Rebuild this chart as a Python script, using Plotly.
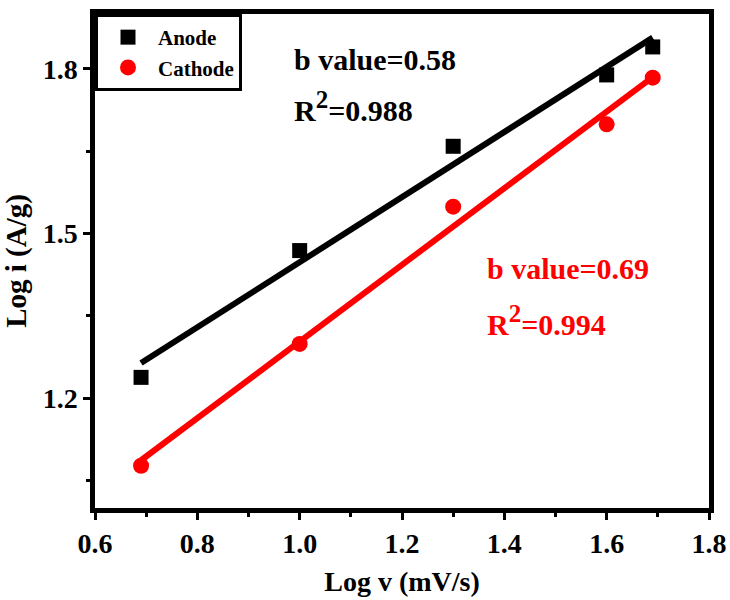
import plotly.graph_objects as go

# Data
log_v = [0.69, 1.0, 1.3, 1.6, 1.69]
anode_log_i = [1.238, 1.469, 1.659, 1.789, 1.840]
cathode_log_i = [1.077, 1.299, 1.549, 1.699, 1.784]

fit_x = [0.69, 1.69]
anode_fit = [1.264, 1.857]
cathode_fit = [1.087, 1.785]

x_ticks = [0.6, 0.8, 1.0, 1.2, 1.4, 1.6, 1.8]
y_ticks = [1.2, 1.5, 1.8]

FONT = "Liberation Serif"
fig = go.Figure()

fig.add_trace(go.Scatter(x=fit_x, y=anode_fit, mode="lines",
                         line=dict(color="black", width=6),
                         showlegend=False, hoverinfo="skip"))
fig.add_trace(go.Scatter(x=fit_x, y=cathode_fit, mode="lines",
                         line=dict(color="#ff0000", width=6),
                         showlegend=False, hoverinfo="skip"))
fig.add_trace(go.Scatter(x=log_v, y=anode_log_i, mode="markers", name="Anode",
                         marker=dict(symbol="square", size=15, color="black")))
fig.add_trace(go.Scatter(x=log_v, y=cathode_log_i, mode="markers", name="Cathode",
                         marker=dict(symbol="circle", size=16, color="#ff0000")))

axis_common = dict(
    showline=True, linecolor="black", linewidth=4.5, mirror=True,
    ticks="outside", ticklen=7, tickwidth=3, tickcolor="black",
    showgrid=False, zeroline=False, automargin=False,
    tickfont=dict(family=FONT, size=28, color="black", weight="bold"),
)

fig.update_xaxes(range=[0.6, 1.8], tickvals=x_ticks,
                 ticktext=[f"{v:.1f}" for v in x_ticks],
                 minor=dict(dtick=0.1, tick0=0.6, ticks="outside", ticklen=4,
                            tickwidth=3, tickcolor="black", showgrid=False),
                 title=dict(text="Log v (mV/s)",
                            font=dict(family=FONT, size=28, color="black", weight="bold")),
                 **axis_common)
fig.update_yaxes(range=[1.0, 1.9], tickvals=y_ticks,
                 ticktext=[f"{v:.1f}" for v in y_ticks],
                 minor=dict(tickvals=[1.05, 1.35, 1.65], ticks="outside", ticklen=4,
                            tickwidth=3, tickcolor="black", showgrid=False),
                 title=dict(text="Log i (A/g)",
                            font=dict(family=FONT, size=29, color="black", weight="bold")),
                 **axis_common)

ann_font_black = dict(family=FONT, size=30, color="black", weight="bold")
ann_font_red = dict(family=FONT, size=30, color="#ff0000", weight="bold")
sup = "<sup><span style='font-size:25px'>2</span></sup>"
fig.add_annotation(x=0.985, y=1.818, xref="x", yref="y", text="b value=0.58",
                   showarrow=False, xanchor="left", font=ann_font_black)
fig.add_annotation(x=0.985, y=1.732, xref="x", yref="y", text="R" + sup + "=0.988",
                   showarrow=False, xanchor="left", font=ann_font_black)
fig.add_annotation(x=1.362, y=1.437, xref="x", yref="y", text="b value=0.69",
                   showarrow=False, xanchor="left", font=ann_font_red)
fig.add_annotation(x=1.362, y=1.342, xref="x", yref="y", text="R" + sup + "=0.994",
                   showarrow=False, xanchor="left", font=ann_font_red)

fig.update_layout(
    width=730, height=600,
    margin=dict(l=95, r=21, t=14, b=92),
    paper_bgcolor="white", plot_bgcolor="white",
    legend=dict(x=0, y=1, xanchor="left", yanchor="top",
                bordercolor="black", borderwidth=3, bgcolor="white",
                font=dict(family=FONT, size=21, color="black", weight="bold"),
                tracegroupgap=0, itemwidth=50),
    font=dict(family=FONT),
)

fig.write_html("out.html")
